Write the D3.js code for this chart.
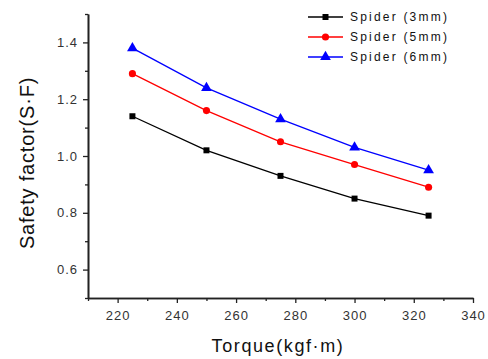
<!DOCTYPE html>
<html>
<head>
<meta charset="utf-8">
<script src="https://cdn.jsdelivr.net/npm/d3@7"></script>
<style>
  body { margin: 0; background: #fff; }
  svg { display: block; }
</style>
</head>
<body>
<script>
// data
const torque = [225, 250, 275, 300, 325];
const sf3mm = [1.14, 1.02, 0.93, 0.85, 0.79];
const sf5mm = [1.29, 1.16, 1.05, 0.97, 0.89];
const sf6mm = [1.38, 1.24, 1.13, 1.03, 0.95];
const seriesNames = ["Spider (3mm)", "Spider (5mm)", "Spider (6mm)"];
const xTicks = [220, 240, 260, 280, 300, 320, 340];
const yTicks = [0.6, 0.8, 1.0, 1.2, 1.4];

const width = 488, height = 359;

const x = d3.scaleLinear().domain([210, 340]).range([88, 473]);
const y = d3.scaleLinear().domain([0.5, 1.5]).range([298, 14]);

const svg = d3.select("body").append("svg")
    .attr("width", width)
    .attr("height", height);

const series = [
  { name: seriesNames[0], values: sf3mm, color: "#000000", symbol: d3.symbolSquare, size: 36 },
  { name: seriesNames[1], values: sf5mm, color: "#ff0000", symbol: d3.symbolCircle, size: 40 },
  { name: seriesNames[2], values: sf6mm, color: "#0000ff", symbol: d3.symbolTriangle, size: 50 }
];

// axes
const xAxis = svg.append("g")
    .attr("transform", `translate(0,${y.range()[0]})`)
    .call(d3.axisBottom(x).tickValues(xTicks).tickSize(5).tickPadding(5).tickSizeOuter(0).tickFormat(d3.format("d")));
const xMinor = svg.append("g")
    .attr("transform", `translate(0,${y.range()[0]})`)
    .call(d3.axisBottom(x).tickValues(d3.range(210, 341, 10).filter(v => v % 20 !== 0)).tickSize(3).tickFormat("").tickSizeOuter(0));

const yAxis = svg.append("g")
    .attr("transform", `translate(${x.range()[0]},0)`)
    .call(d3.axisLeft(y).tickValues(yTicks).tickSize(5).tickPadding(5).tickSizeOuter(0).tickFormat(d3.format(".1f")));
const yMinor = svg.append("g")
    .attr("transform", `translate(${x.range()[0]},0)`)
    .call(d3.axisLeft(y).tickValues([0.5, 0.7, 0.9, 1.1, 1.3, 1.5]).tickSize(3).tickFormat("").tickSizeOuter(0));

[xAxis, xMinor, yAxis, yMinor].forEach(g => {
  g.selectAll("path.domain").attr("stroke", "#222").attr("stroke-width", 1.6);
  g.selectAll(".tick line").attr("stroke", "#222").attr("stroke-width", 1.3);
  g.selectAll(".tick text")
    .attr("fill", "#333")
    .style("font", "13px 'Liberation Sans', Arial, sans-serif")
    .style("letter-spacing", "1px");
});
xAxis.selectAll(".tick text").attr("dy", "0.9em");

// axis titles
svg.append("text")
    .attr("x", 278)
    .attr("y", 352)
    .attr("text-anchor", "middle")
    .style("font", "18px 'Liberation Sans', Arial, sans-serif")
    .style("letter-spacing", "1.6px")
    .attr("fill", "#111")
    .text("Torque(kgf·m)");

svg.append("text")
    .attr("transform", "translate(34,163) rotate(-90)")
    .attr("text-anchor", "middle")
    .style("font", "20px 'Liberation Sans', Arial, sans-serif")
    .style("letter-spacing", "0.8px")
    .attr("fill", "#111")
    .text("Safety  factor(S·F)");

// lines and markers
const line = d3.line().x((d, i) => x(torque[i])).y(d => y(d));

series.forEach(s => {
  svg.append("path")
      .datum(s.values)
      .attr("fill", "none")
      .attr("stroke", s.color)
      .attr("stroke-width", 1.3)
      .attr("d", line);
  svg.append("g")
    .selectAll("path")
    .data(s.values)
    .join("path")
      .attr("transform", (d, i) => `translate(${x(torque[i])},${y(d)})`)
      .attr("fill", s.color)
      .attr("d", d3.symbol().type(s.symbol).size(s.size));
});

// legend
const legend = svg.append("g").attr("transform", "translate(308,17)");
const row = legend.selectAll("g")
  .data(series)
  .join("g")
    .attr("transform", (d, i) => `translate(0,${i * 20})`);
row.append("line")
    .attr("x1", 0).attr("x2", 35)
    .attr("stroke", d => d.color)
    .attr("stroke-width", 1.3);
row.append("path")
    .attr("transform", "translate(17.5,0)")
    .attr("fill", d => d.color)
    .attr("d", d => d3.symbol().type(d.symbol).size(d.size)());
row.append("text")
    .attr("x", 42)
    .attr("dy", "0.35em")
    .style("font", "12px 'Liberation Sans', Arial, sans-serif")
    .style("letter-spacing", "2.2px")
    .attr("fill", "#111")
    .text(d => d.name);
</script>
</body>
</html>
